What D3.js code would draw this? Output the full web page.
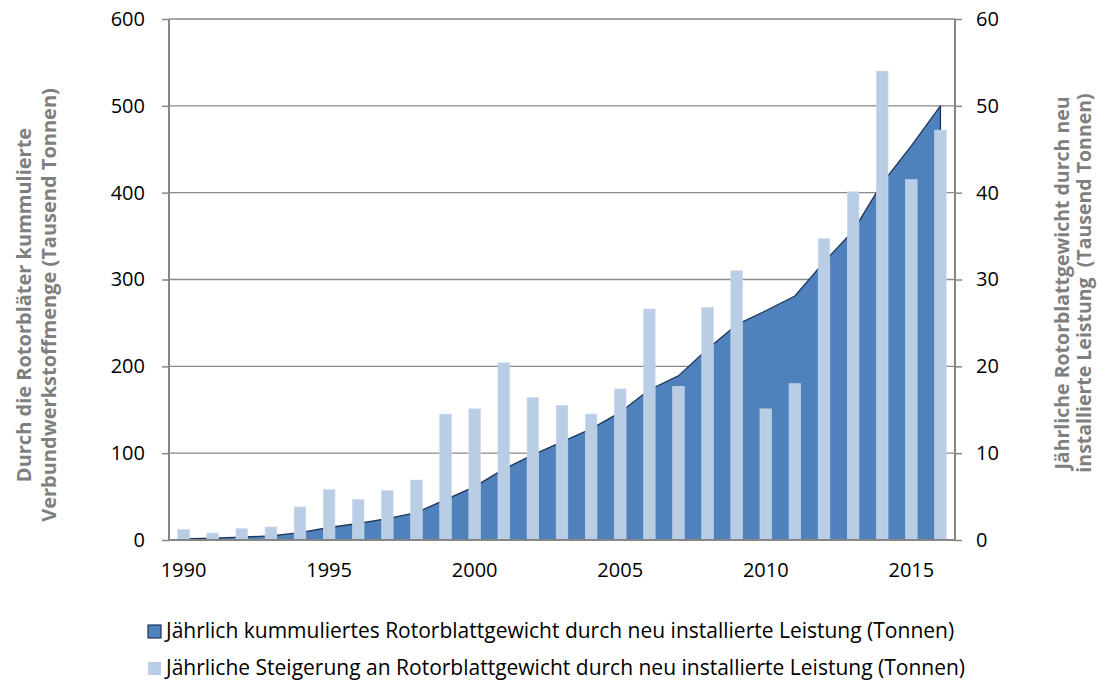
<!DOCTYPE html>
<html><head><meta charset="utf-8">
<script src="https://cdn.jsdelivr.net/npm/d3@7"></script>
<style>
html,body{margin:0;padding:0;background:#fff;}
svg{display:block;font-family:"Open Sans",sans-serif;}
</style></head>
<body><svg id="chart" width="1098" height="680"></svg>
<script>
const years = [1990,1991,1992,1993,1994,1995,1996,1997,1998,1999,2000,2001,2002,2003,2004,2005,2006,2007,2008,2009,2010,2011,2012,2013,2014,2015,2016];
// cumulative (left axis, thousand tonnes)
const cumulative = [1.2,2.0,3.3,4.8,8.6,14.4,19.0,24.7,31.6,46.5,61.5,81.6,98,113,128,147,173,189,220,248,264,281,320,356,411,454,500];
// annual increase (right axis, thousand tonnes)
const annual = [1.2,0.8,1.3,1.5,3.8,5.8,4.65,5.7,6.9,14.5,15.1,20.4,16.4,15.5,14.5,17.4,26.6,17.7,26.8,31.0,15.1,18.0,34.7,40.1,54.0,41.5,47.2];
const leftTicks = [0,100,200,300,400,500,600];
const rightTicks = [0,10,20,30,40,50,60];
const xTickLabels = [1990,1995,2000,2005,2010,2015];
const seriesNames = ["Jährlich kummuliertes Rotorblattgewicht durch neu installierte Leistung (Tonnen)",
                     "Jährliche Steigerung an Rotorblattgewicht durch neu installierte Leistung (Tonnen)"];
const leftTitle = ["Durch die Rotorbläter kummulierte","Verbundwerkstoffmenge (Tausend Tonnen)"];
const rightTitle = ["Jährliche Rotorblattgewicht durch neu","installierte Leistung  (Tausend Tonnen)"];

const svg = d3.select("#chart");
const L = 169, R = 955, T = 19, B = 540;
const x = d3.scaleBand().domain(years).range([L, R]).paddingInner(0).paddingOuter(0);
const yL = d3.scaleLinear().domain([0,600]).range([B, T]);
const yR = d3.scaleLinear().domain([0,60]).range([B, T]);
const cx = d => x(d) + x.bandwidth()/2;

const gridCol = "#898989";
// gridlines
svg.append("g").selectAll("line").data(leftTicks.slice(1)).join("line")
  .attr("x1", L).attr("x2", R).attr("y1", d=>yL(d)).attr("y2", d=>yL(d))
  .attr("stroke", gridCol).attr("stroke-width", 1.3);

// area
const area = d3.area().x((d,i)=>cx(years[i])).y0(yL(0)).y1(d=>yL(d));
svg.append("path").datum(cumulative).attr("d", area)
  .attr("fill", "#4F81BD").attr("stroke", "#1F3558").attr("stroke-width", 1.3).attr("stroke-linejoin","round");

// bars
const bw = x.bandwidth()*0.4;
svg.append("g").selectAll("rect").data(annual).join("rect")
  .attr("x", (d,i)=>cx(years[i]) - bw/2).attr("width", bw)
  .attr("y", d=>yR(d)).attr("height", d=>yR(0)-yR(d))
  .attr("fill", "#B9CDE5").attr("stroke", "#C9D8EB").attr("stroke-width", 0.6);

// axes
const axisCol = "#868686";
const gl = svg.append("g").attr("transform", `translate(${L},0)`)
  .call(d3.axisLeft(yL).tickValues(leftTicks).tickSize(7).tickPadding(17));
const gr = svg.append("g").attr("transform", `translate(${R},0)`)
  .call(d3.axisRight(yR).tickValues(rightTicks).tickSize(7).tickPadding(14));
const gb = svg.append("g").attr("transform", `translate(0,${B})`)
  .call(d3.axisBottom(x).tickValues(xTickLabels).tickSize(0).tickPadding(23));
[gl,gr,gb].forEach(g=>{
  g.select(".domain").attr("stroke", axisCol).attr("stroke-width", 2);
  g.selectAll(".tick line").attr("stroke", axisCol).attr("stroke-width", 1.5);
  g.selectAll(".tick text").attr("fill", "#000").style("font-size","20px").style("font-family","'Open Sans',sans-serif");
});
gl.select(".domain").attr("d", `M0,${B}V${T}`);
gr.select(".domain").attr("d", `M0,${B}V${T}`);
gb.select(".domain").attr("d", `M${L},0H${R}`);

// axis titles
const titleCol = "#7F7F7F";
const lt = svg.append("text").attr("transform","translate(31,305) rotate(-90)")
  .attr("text-anchor","middle").attr("fill",titleCol).style("font-weight","bold").style("font-size","20px");
leftTitle.forEach((t,i)=>lt.append("tspan").attr("x",0).attr("dy", i===0?0:25).text(t));
const rt = svg.append("text").attr("transform","translate(1069,283) rotate(-90)")
  .attr("text-anchor","middle").attr("fill",titleCol).style("font-weight","bold").style("font-size","19.5px")
  .attr("xml:space","preserve").style("white-space","pre");
rightTitle.forEach((t,i)=>rt.append("tspan").attr("x",0).attr("dy", i===0?0:21.5).text(t));

// legend
const leg = svg.append("g");
const legCols = [{fill:"#4F81BD", stroke:"#1F3558"},{fill:"#B9CDE5", stroke:"none"}];
seriesNames.forEach((n,i)=>{
  const y = 638 + i*37;
  leg.append("rect").attr("x",148).attr("y",y-13).attr("width",13).attr("height",13)
    .attr("fill",legCols[i].fill).attr("stroke",legCols[i].stroke).attr("stroke-width",1.2);
  leg.append("text").attr("x",166).attr("y",y).attr("fill","#000").style("font-size","21px").text(n);
});
</script></body></html>
